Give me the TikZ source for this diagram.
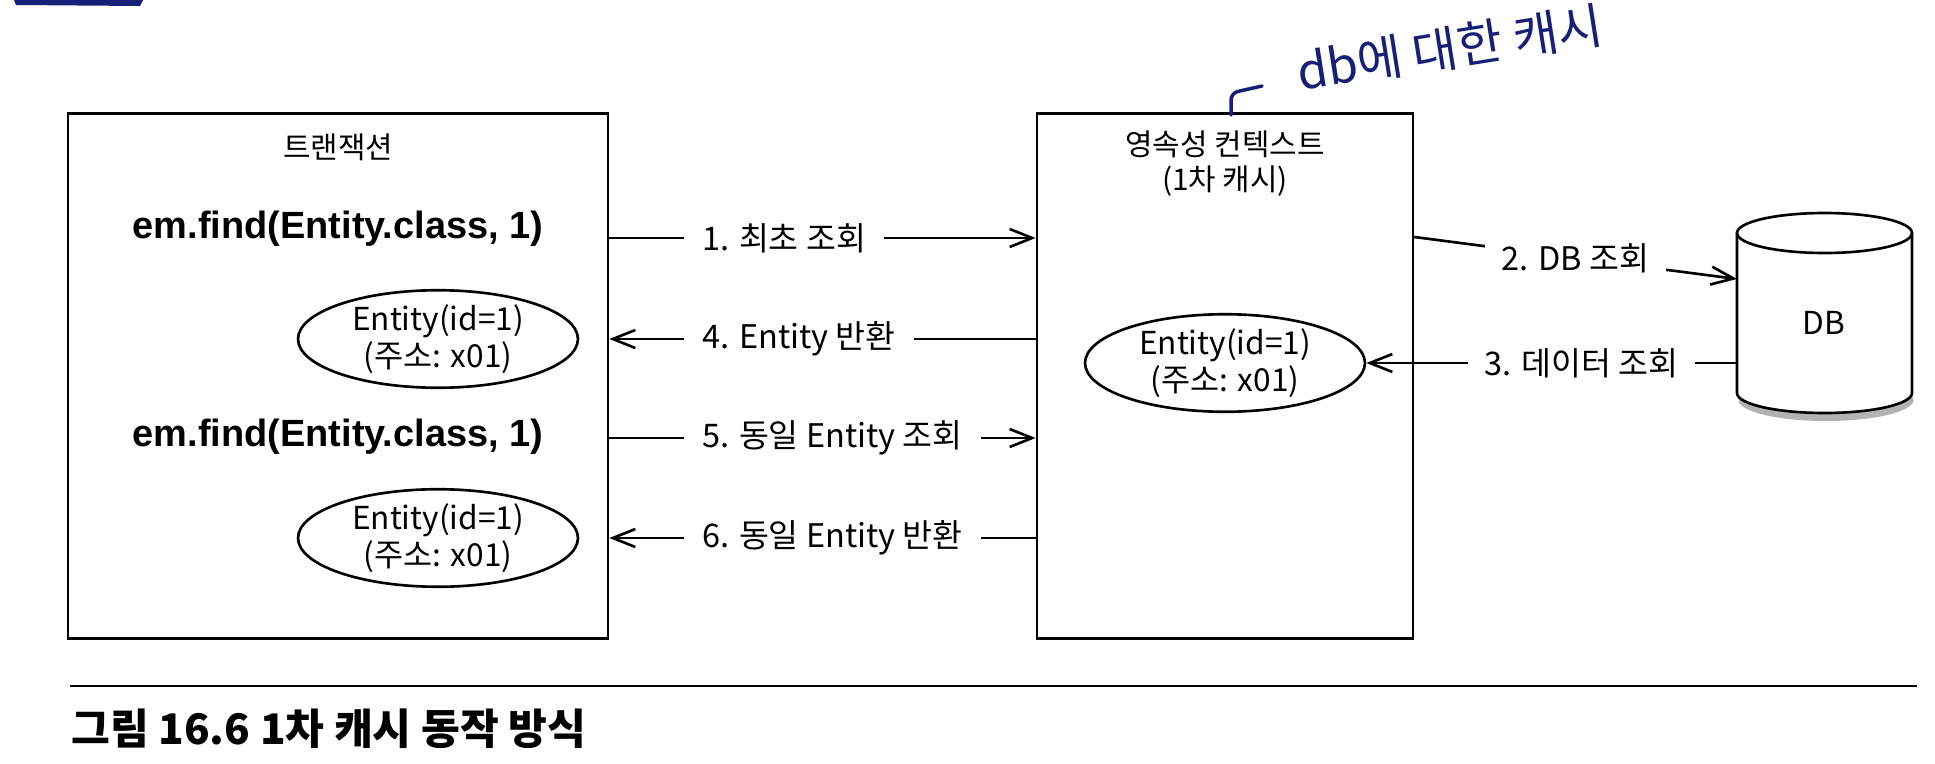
\documentclass[tikz,border=0pt]{standalone}
\usepackage{fontspec}
\setmainfont{Noto Sans CJK KR}
\newfontfamily\codefont{Liberation Sans}
\usetikzlibrary{shapes.geometric,arrows.meta}
\definecolor{handblue}{RGB}{22,32,120}

\tikzset{
  ent/.style={ellipse,draw,minimum width=5.6cm,minimum height=1.95cm,inner sep=0pt,
    align=center,font=\fontsize{18}{21}\selectfont},
  lbl/.style={inner xsep=0.34cm,inner ysep=0pt,font=\fontsize{18.5}{21}\selectfont},
  code/.style={anchor=base,font=\fontsize{21.6}{25}\selectfont\codefont\bfseries},
}

\begin{document}
\begin{tikzpicture}[x=0.02cm,y=-0.02cm,line width=1.5pt,
  >={Straight Barb[length=0.45cm,width=0.36cm]}]
\useasboundingbox (0,0) rectangle (1935,764);
% boxes
\node[draw,minimum width=10.8cm,minimum height=10.5cm] (tx) at (338,376) {};
\node[draw,minimum width=7.52cm,minimum height=10.5cm] (pc) at (1225,376) {};
\node[font=\fontsize{17}{20}\selectfont] (txname) at (338,147) {트랜잭션};
\node[align=center,font=\fontsize{17}{20}\selectfont] (pcname) at (1225,164) {영속성 컨텍스트\\(1차 캐시)};
\node[code] (find1) at (338,238) {em.find(Entity.class, 1)};
\node[code] (find2) at (338,446) {em.find(Entity.class, 1)};
\node[ent] (e1) at (438,339) {Entity(id=1)\\(주소: x01)};
\node[ent] (e2) at (438,538) {Entity(id=1)\\(주소: x01)};
\node[ent] (ce) at (1225,363) {Entity(id=1)\\(주소: x01)};
% DB cylinder
\fill[black!30] (1826,400) ellipse [x radius=1.75cm,y radius=0.42cm];
\draw[fill=white] (1737,233) -- (1737,393)
  arc [start angle=180,end angle=360,x radius=1.75cm,y radius=0.4cm]
  -- (1912,233) arc [start angle=0,end angle=180,x radius=1.75cm,y radius=0.4cm] -- cycle;
\draw (1737,233) arc [start angle=180,end angle=360,x radius=1.75cm,y radius=0.4cm];
\node[font=\fontsize{18}{20}\selectfont] (db) at (1824,323) {DB};
\coordinate (dbin) at (1737,279);
\coordinate (dbout) at (1737,363);
% calls between transaction and context
\foreach \n/\y/\t/\sa/\sb in {a1/238/{1. 최초 조회}/-/->, a4/339/{4. Entity 반환}/<-/-,
    a5/438/{5. 동일 Entity 조회}/-/->, a6/538/{6. 동일 Entity 반환}/<-/-} {
  \node[lbl,anchor=west] (\n) at (684,\y) {\t};
  \draw[\sa] (tx.east |- \n.west) -- (\n.west);
  \draw[\sb] (\n.east) -- (pc.west |- \n.east);
}
\draw[->] (pc.east |- 0,237) -- node[lbl,fill=white] (a2) {2. DB 조회} (dbin);
\draw[->] (dbout) -- node[lbl,fill=white,pos=.42] (a3) {3. 데이터 조회} (ce.east);
% caption
\draw[line width=1.2pt] (70,686) -- (1917,686);
\node[anchor=west,inner sep=0pt,font=\fontsize{24}{28}\selectfont\bfseries] (cap) at (70,729) {그림 16.6 1차 캐시 동작 방식};
% pen notes
\fill[handblue] (14,0) -- (143,0) -- (140,6) -- (16,5) -- cycle;
\draw[handblue,line width=2pt,line cap=round,rounded corners=4pt] (1231,115) -- (1231,93) -- (1262,86);
\node[handblue,rotate=9,font=\fontsize{28}{32}\selectfont] (memo) at (1450,48) {db에 대한 캐시};
\end{tikzpicture}
\end{document}
